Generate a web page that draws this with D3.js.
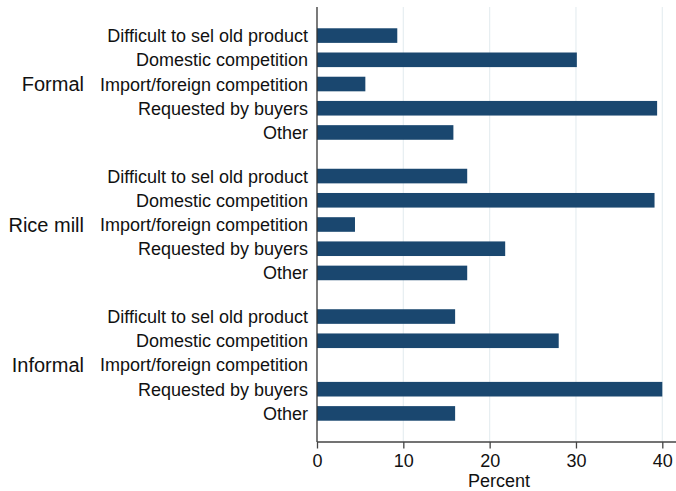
<!DOCTYPE html>
<html>
<head>
<meta charset="utf-8">
<script src="https://cdn.jsdelivr.net/npm/d3@7"></script>
<style>
  html, body { margin: 0; padding: 0; background: #fff; }
  svg { display: block; font-family: "Liberation Sans", Arial, Helvetica, sans-serif; }
</style>
</head>
<body>
<svg id="chart" width="676" height="491"></svg>
<script>
// Reasons for product change, by firm type (percent)
const groups = ["Formal", "Rice mill", "Informal"];
const reasons = [
  "Difficult to sel old product",
  "Domestic competition",
  "Import/foreign competition",
  "Requested by buyers",
  "Other"
];
const formalValues   = [9.3, 30.1, 5.6, 39.4, 15.8];
const riceMillValues = [17.4, 39.1, 4.4, 21.8, 17.4];
const informalValues = [16.0, 28.0, 0, 40.0, 16.0];
const seriesValues = [formalValues, riceMillValues, informalValues];
const xTicks = [0, 10, 20, 30, 40];
const xTitle = "Percent";

const groupStride = 5.8; // slots per group, including the gap
const rows = [];
groups.forEach((g, gi) => {
  reasons.forEach((r, ri) => {
    rows.push({ group: g, reason: r, value: seriesValues[gi][ri], slot: gi * groupStride + ri });
  });
});
const lastSlot = (groups.length - 1) * groupStride + reasons.length - 1;

const svg = d3.select("#chart");
const plotLeft = 317, plotRight = 676, plotTop = 7, plotBottom = 442;

const x = d3.scaleLinear().domain([0, 40]).range([plotLeft, 662.3]);
const y = d3.scaleLinear().domain([-1.18, lastSlot + 1.18]).range([plotTop, plotBottom]);
const barH = 14.6;
const navy = "#1a476f";

// vertical grid lines
svg.append("g").selectAll("line")
  .data(xTicks.filter(t => t > 0))
  .join("line")
  .attr("x1", d => x(d)).attr("x2", d => x(d))
  .attr("y1", plotTop).attr("y2", plotBottom)
  .attr("stroke", "#e6eef1").attr("stroke-width", 1.2);

// bars
svg.append("g").selectAll("rect")
  .data(rows.filter(d => d.value > 0))
  .join("rect")
  .attr("x", x(0))
  .attr("y", d => y(d.slot) - barH / 2)
  .attr("width", d => x(d.value) - x(0))
  .attr("height", barH)
  .attr("fill", navy);

// category labels
svg.append("g").selectAll("text")
  .data(rows)
  .join("text")
  .attr("x", 308)
  .attr("y", d => y(d.slot))
  .attr("dy", "0.36em")
  .attr("text-anchor", "end")
  .attr("font-size", 18)
  .attr("fill", "#111")
  .text(d => d.reason);

// group labels
svg.append("g").selectAll("text")
  .data(groups)
  .join("text")
  .attr("x", 84)
  .attr("y", (d, i) => y(i * groupStride + 2))
  .attr("dy", "0.36em")
  .attr("text-anchor", "end")
  .attr("font-size", 20)
  .attr("fill", "#111")
  .text(d => d);

// left axis line
svg.append("line")
  .attr("x1", plotLeft).attr("x2", plotLeft)
  .attr("y1", plotTop).attr("y2", plotBottom)
  .attr("stroke", "#333").attr("stroke-width", 1.3);

// bottom axis
const xAxis = d3.axisBottom(x).tickValues(xTicks).tickSize(6.5).tickPadding(6).tickFormat(d3.format("d"));
const ax = svg.append("g").attr("transform", `translate(0,${plotBottom})`).call(xAxis);
ax.select(".domain").remove();
ax.selectAll(".tick line").attr("stroke", "#444").attr("stroke-width", 1.3);
ax.selectAll(".tick text").attr("font-size", 18).attr("fill", "#111")
  .attr("font-family", "'Liberation Sans', Arial, Helvetica, sans-serif");
ax.append("line")
  .attr("x1", plotLeft).attr("x2", plotRight)
  .attr("y1", 0).attr("y2", 0)
  .attr("stroke", "#444").attr("stroke-width", 1.3);

svg.append("text")
  .attr("x", 499).attr("y", 487)
  .attr("text-anchor", "middle")
  .attr("font-size", 18)
  .attr("fill", "#111")
  .text(xTitle);
</script>
</body>
</html>
